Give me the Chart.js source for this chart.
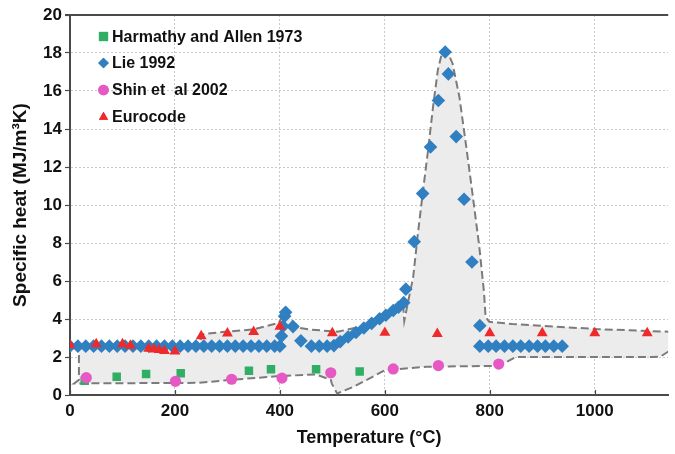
<!DOCTYPE html>
<html>
<head>
<meta charset="utf-8">
<script src="https://cdn.jsdelivr.net/npm/chart.js@4"></script>
<style>
  html, body { margin: 0; padding: 0; background: #fff; }
  #wrap { width: 675px; height: 454px; }
</style>
</head>
<body>
<div id="wrap"><canvas id="chart" width="675" height="454"></canvas></div>
<script>
// values
const harmathyT = [28, 89, 145, 211, 341, 383, 469, 552];
const harmathyC = [0.75, 0.96, 1.10, 1.14, 1.28, 1.36, 1.36, 1.24];

const lieT = [0, 15, 30, 45, 60, 75, 90, 105, 120, 135, 150, 165, 180, 195, 210, 225, 240, 255, 270, 285,
  300, 315, 330, 345, 360, 375, 390, 400, 403, 406, 409, 411, 425, 440, 460, 475, 490, 503, 515, 530,
  545, 560, 575, 590, 602, 616, 626, 636, 640, 656, 672, 687, 702, 715, 721, 736, 751, 766, 781,
  781, 797, 812, 828, 844, 859, 875, 891, 906, 922, 938];
const lieC = [2.57, 2.57, 2.57, 2.57, 2.57, 2.57, 2.57, 2.57, 2.57, 2.57, 2.57, 2.57, 2.57, 2.57, 2.57, 2.57, 2.57, 2.57, 2.57, 2.57,
  2.57, 2.57, 2.57, 2.57, 2.57, 2.57, 2.57, 2.57, 3.10, 3.62, 4.15, 4.35, 3.60, 2.85, 2.57, 2.57, 2.57, 2.60, 2.81, 3.05,
  3.29, 3.53, 3.77, 4.01, 4.20, 4.45, 4.62, 4.86, 5.57, 8.07, 10.6, 13.05, 15.5, 18.05, 16.9, 13.6, 10.3, 7.0, 3.65,
  2.57, 2.57, 2.57, 2.57, 2.57, 2.57, 2.57, 2.57, 2.57, 2.57, 2.57];

const shinT = [31, 201, 308, 404, 497, 616, 702, 817];
const shinC = [0.91, 0.72, 0.83, 0.89, 1.17, 1.37, 1.55, 1.63];

const euroT = [0, 50, 100, 115, 150, 160, 170, 180, 200, 250, 300, 350, 400, 500, 600, 700, 800, 900, 1000, 1100];
const euroC = [2.62, 2.68, 2.68, 2.60, 2.44, 2.40, 2.37, 2.33, 2.30, 3.10, 3.25, 3.33, 3.60, 3.26, 3.28, 3.22, 3.26, 3.26, 3.26, 3.26];

// dashed envelope, upper edge left to right then lower edge back
const envT = [5, 245, 252, 305, 350, 398, 410, 420, 432, 455, 510, 555, 600, 635, 637, 645, 654, 663, 673, 682,
  692, 701, 708, 714, 721, 729, 742, 755, 767, 780, 789, 792, 799, 843, 1003, 1141, 1170,
  1170, 1141, 1125, 1110, 849, 833, 805, 679, 600, 541, 509, 499, 497, 469, 401, 308, 245, 8, 17, 17, 17];
const envC = [2.6, 2.6, 3.2, 3.35, 3.45, 3.8, 4.4, 4.0, 3.55, 3.45, 3.33, 3.6, 4.1, 4.7, 3.9, 5.0, 6.2, 8.5, 10.8, 12.8,
  15.2, 17.1, 17.9, 18.15, 17.95, 17.45, 15.7, 13.1, 10.6, 7.8, 5.4, 4.1, 3.85, 3.74, 3.47, 3.33, 3.3,
  2.7, 2.3, 2.02, 2.0, 2.0, 1.75, 1.53, 1.49, 1.3, 0.44, 0.08, 0.6, 0.8, 1.08, 1.0, 0.8, 0.64, 0.61, 0.8, 2.0, 2.6];

const xTicks = [0, 200, 400, 600, 800, 1000];

const FONT = "'Liberation Sans', Arial, sans-serif";
const TXT = '#111';
const AXIS = '#4a4a4a';

function pts(xs, ys) {
  return xs.map((x, i) => ({ x: x, y: ys[i] }));
}

const series = [
  { label: 'Harmathy and Allen 1973', color: '#2fae64', style: 'rect', r: 6, t: harmathyT, c: harmathyC, order: 4 },
  { label: 'Lie 1992', color: '#2f7fc1', style: 'rectRot', r: 6.8, t: lieT, c: lieC, order: 3 },
  { label: 'Shin et  al 2002', color: '#e659c4', style: 'circle', r: 5.6, t: shinT, c: shinC, order: 2 },
  { label: 'Eurocode', color: '#ee2a2a', style: 'triangle', r: 6.3, t: euroT, c: euroC, order: 1 }
];

const datasets = series.map(s => ({
  label: s.label,
  data: pts(s.t, s.c),
  pointStyle: s.style,
  pointRadius: s.r,
  pointBackgroundColor: s.color,
  pointBorderColor: s.color,
  pointBorderWidth: 0,
  order: s.order
}));

datasets.push({
  label: 'envelope',
  data: pts(envT, envC),
  showLine: true,
  pointRadius: 0,
  borderColor: '#7b7b7b',
  borderWidth: 2,
  borderDash: [8, 4],
  backgroundColor: '#ececec',
  fill: 'shape',
  tension: 0,
  order: 10
});

const framePlugin = {
  id: 'frame',
  afterDraw(chart) {
    const ctx = chart.ctx;
    const a = chart.chartArea;
    const xs = chart.scales.x;
    ctx.save();
    ctx.strokeStyle = AXIS;
    ctx.lineWidth = 2;
    ctx.beginPath();
    ctx.moveTo(a.left - 5, a.top);
    ctx.lineTo(a.right, a.top);
    ctx.stroke();
    ctx.lineWidth = 1.2;
    xTicks.forEach(v => {
      const px = Math.round(xs.getPixelForValue(v)) + 0.5;
      ctx.beginPath();
      ctx.moveTo(px, a.bottom);
      ctx.lineTo(px, a.bottom - 5);
      ctx.stroke();
    });
    // legend
    ctx.font = 'bold 16px ' + FONT;
    ctx.fillStyle = TXT;
    ctx.textBaseline = 'middle';
    const rows = [36.5, 63, 90, 117];
    series.forEach((s, i) => {
      const y = rows[i];
      ctx.fillStyle = s.color;
      Chart.helpers.drawPoint(ctx, { pointStyle: s.style, radius: s.style === 'rect' ? 6.5 : 5.3, rotation: 0, borderWidth: 0 }, 103.5, y);
      ctx.fill();
      ctx.fillStyle = TXT;
      ctx.fillText(s.label, 112, y + 1);
    });
    ctx.restore();
  }
};

new Chart(document.getElementById('chart'), {
  type: 'scatter',
  data: { datasets: datasets },
  options: {
    responsive: false,
    animation: false,
    layout: { padding: { top: 15, right: 0, left: 0, bottom: 0 } },
    plugins: { legend: { display: false }, tooltip: { enabled: false } },
    scales: {
      x: {
        type: 'linear',
        min: 0,
        max: 1140,
        afterBuildTicks: s => { s.ticks = s.ticks.filter(t => t.value % 200 === 0); },
        afterFit: s => { s.height = 59; },
        ticks: { stepSize: 200, color: TXT, font: { family: FONT, size: 17, weight: 'bold' }, padding: 6, maxRotation: 0,
          callback: v => String(v) },
        grid: { color: '#c9c9c9', lineWidth: 1, drawTicks: false },
        border: { color: AXIS, width: 2, dash: [2, 2] },
        title: { display: true, text: 'Temperature (°C)', color: TXT, font: { family: FONT, size: 18, weight: 'bold' }, padding: { top: 0, bottom: 5 } }
      },
      y: {
        min: 0,
        max: 20,
        afterFit: s => { s.width = 70; },
        ticks: { stepSize: 2, color: TXT, font: { family: FONT, size: 17, weight: 'bold' }, padding: 3 },
        grid: { color: '#c9c9c9', lineWidth: 1, tickLength: 5, tickColor: AXIS, tickWidth: 1.2, tickBorderDash: [] },
        border: { color: AXIS, width: 2, dash: [2, 2] },
        title: { display: true, text: 'Specific heat (MJ/m³K)', color: TXT, font: { family: FONT, size: 19, weight: 'bold' }, padding: { top: 9, bottom: 0 } }
      }
    }
  },
  plugins: [framePlugin]
});
</script>
</body>
</html>
